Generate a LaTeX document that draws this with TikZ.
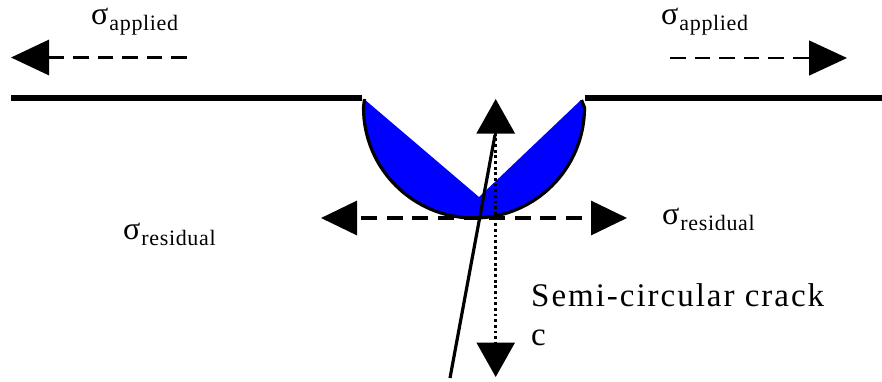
\documentclass[tikz,border=0pt]{standalone}
\usepackage{fontspec}
\setmainfont{Liberation Serif}
\newfontfamily\spaced[LetterSpace=6]{Liberation Serif}
\newfontfamily\subspaced[LetterSpace=3]{Liberation Serif}
\usetikzlibrary{arrows.meta}
\tikzset{
  x=1pt,y=-1pt,
  surface/.style={line width=5.6pt,line cap=butt},
  righttip/.style={-{Triangle[length=38pt,width=35pt]}},
  resid/.style={{Triangle[length=36pt,width=34pt]}-{Triangle[length=36pt,width=34pt]}},
  vert/.style={{Triangle[length=34.5pt,width=38pt]}-{Triangle[length=34.5pt,width=38pt]}},
  thickdash/.style={line width=3.2pt,dash pattern=on 15.6pt off 9pt},
  residdash/.style={line width=3.2pt,dash pattern=on 16pt off 9.6pt,dash phase=20.6pt},
  thindash/.style={line width=1.3pt,dash pattern=on 15.6pt off 9pt},
  depth/.style={line width=2.8pt,dash pattern=on 2.8pt off 2.85pt},
  lab/.style={inner sep=0pt,anchor=base west},
}
\newcommand{\sig}[1]{\raisebox{5.5pt}{\fontsize{32}{32}\selectfont σ}\hspace{1pt}{\fontsize{22}{22}\subspaced #1}}
\begin{document}
\begin{tikzpicture}
\useasboundingbox (0,0) rectangle (882,381);
% named points
\coordinate (sl1) at (11,98);   \coordinate (sl2) at (362,98);
\coordinate (sr1) at (585,98);  \coordinate (sr2) at (882,98);
\coordinate (al0) at (187,57.5);\coordinate (al1) at (11,57.5);
\coordinate (ar0) at (670,58);  \coordinate (ar1) at (847,58);
\coordinate (rl) at (321,218);  \coordinate (rr) at (627,218);
\coordinate (vu) at (495.7,99); \coordinate (vd) at (495.7,377);
\coordinate (c1) at (495,135);  \coordinate (c2) at (450,378);
% blue body
\fill[blue] (364,99) -- (479,197) -- (581,100) -- (584.5,107.5)
   arc[start angle=0,end angle=180,x radius=110.5,y radius=110.5] -- cycle;
\draw[line width=3.2pt] (364.5,99) -- (363.5,107.5)
   arc[start angle=180,end angle=0,x radius=110.5,y radius=110.5] -- (581.5,100);
% surface
\draw[surface] (sl1) -- (sl2);
\draw[surface] (sr1) -- (sr2);
% arrows
\draw[thickdash,righttip] (al0) -- (al1);
\draw[thindash,righttip] (ar0) -- (ar1);
\draw[residdash,resid] (rl) -- (rr);
\draw[depth,vert] (vu) -- (vd);
\draw[line width=3.2pt] (c1) -- (c2);
% labels
\node[lab] (t1) at (91,30) {\sig{applied}};
\node[lab] (t2) at (661,30) {\sig{applied}};
\node[lab] (t3) at (123,245) {\sig{residual}};
\node[lab] (t4) at (662,230) {\sig{residual}};
\node[lab] (t5) at (531,306) {\fontsize{33}{33}\spaced Semi-circular crack};
\node[lab] (t6) at (531,345) {\fontsize{33}{33}\selectfont c};
\end{tikzpicture}
\end{document}
